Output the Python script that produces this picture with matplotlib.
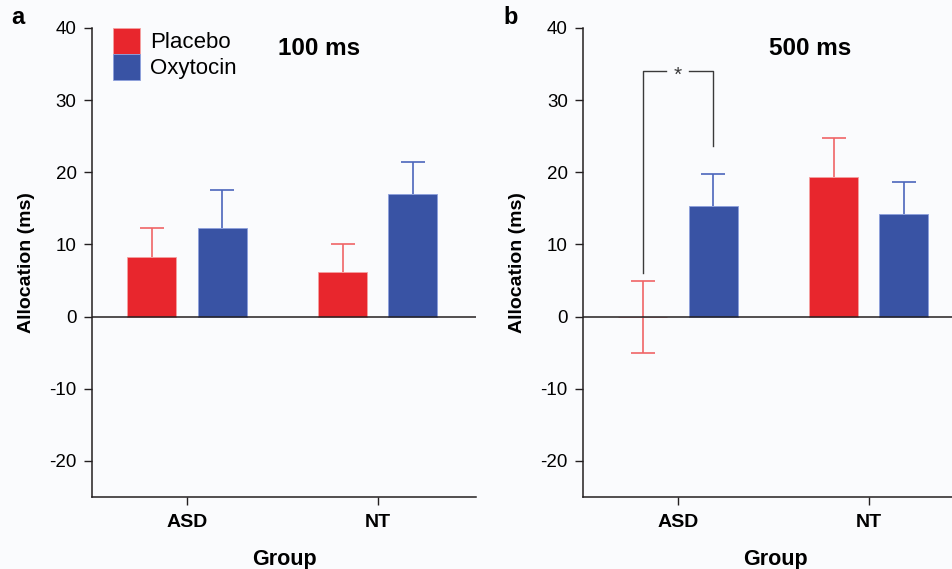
import matplotlib.pyplot as plt
from matplotlib.patches import Patch

plt.rcParams['font.family'] = ['Liberation Sans', 'DejaVu Sans']
plt.rcParams['axes.unicode_minus'] = False

# Data
groups = ['ASD', 'NT']
conditions = ['Placebo', 'Oxytocin']
placebo_100 = [8.3, 6.2]
placebo_100_err = [4.0, 3.8]
oxytocin_100 = [12.3, 17.0]
oxytocin_100_err = [5.2, 4.4]
placebo_500 = [0.0, 19.3]
placebo_500_err = [5.0, 5.4]
oxytocin_500 = [15.4, 14.2]
oxytocin_500_err = [4.4, 4.4]
titles = ['100 ms', '500 ms']
panel_tags = ['a', 'b']

red, blue = '#e8262d', '#3953a4'
red_err, blue_err = '#f06466', '#4b66bb'
ink = '#231f20'
bg = '#fafbfd'

fig = plt.figure(figsize=(9.52, 5.69), dpi=100, facecolor=bg)
ax_a = fig.add_axes([0.0966, 0.1265, 0.4034, 0.8243])
ax_b = fig.add_axes([0.6124, 0.1265, 0.4034, 0.8243])

w, off = 0.257, 0.184
cap = 0.063
xs = [0, 1]

# error bar drawn as a stem with a cap on top (and below when asked)
def err_bar(ax, x, val, err, col, both):
    lo = val - err if both else val
    ax.vlines(x, lo, val + err, color=col, lw=1.2, zorder=1)
    ax.hlines(val + err, x - cap, x + cap, color=col, lw=1.2, zorder=1)
    if both:
        ax.hlines(val - err, x - cap, x + cap, color=col, lw=1.2, zorder=1)

def draw_panel(ax, pla, pla_err, oxy, oxy_err, title, both_sides):
    ax.set_facecolor(bg)
    xp = [x - off for x in xs]
    xo = [x + off for x in xs]
    ax.bar(xp, pla, w, color=red, edgecolor='#f4a0a0', linewidth=0.6, zorder=2)
    ax.bar(xo, oxy, w, color=blue, edgecolor='#8da0dc', linewidth=0.6, zorder=2)
    for i in range(len(xs)):
        err_bar(ax, xp[i], pla[i], pla_err[i], red_err, both_sides[i])
        err_bar(ax, xo[i], oxy[i], oxy_err[i], blue_err, False)
    ax.axhline(0, color=ink, lw=1.1, zorder=3)
    ax.set_xlim(-0.498, 1.515)
    ax.set_ylim(-25, 40)
    ax.set_yticks([-20, -10, 0, 10, 20, 30, 40])
    ax.set_xticks(xs)
    ax.set_xticklabels(groups, fontweight='bold', fontsize=14)
    ax.tick_params(axis='y', labelsize=13.5, length=6, width=1, color=ink, pad=5)
    ax.tick_params(axis='x', length=5.5, width=1, color=ink, pad=7)
    for s in ['top', 'right']:
        ax.spines[s].set_visible(False)
    for s in ['left', 'bottom']:
        ax.spines[s].set_color(ink)
        ax.spines[s].set_linewidth(1.1)
    ax.set_xlabel('Group', fontweight='bold', fontsize=15.5, labelpad=13)
    ax.set_ylabel('Allocation (ms)', fontweight='bold', fontsize=14, labelpad=10)
    ax.text(0.69, 37.2, title, fontweight='bold', fontsize=17.5, ha='center', va='center')

draw_panel(ax_a, placebo_100, placebo_100_err, oxytocin_100, oxytocin_100_err,
           titles[0], [False, False])
draw_panel(ax_b, placebo_500, placebo_500_err, oxytocin_500, oxytocin_500_err,
           titles[1], [True, False])

fig.text(11 / 952, 1 - 18 / 569, panel_tags[0], fontweight='bold', fontsize=17, va='center')
fig.text(503 / 952, 1 - 18 / 569, panel_tags[1], fontweight='bold', fontsize=17, va='center')

# significance bracket on panel b
bx0, bx1, by = -off, off, 34
ax_b.plot([bx0, bx0, -0.063], [6.1, by, by], color='#3a3a3a', lw=1)
ax_b.plot([0.058, bx1, bx1], [by, by, 23.6], color='#3a3a3a', lw=1)
ax_b.text(0, by - 0.5, '*', ha='center', va='center', fontsize=15, color='#3a3a3a')

handles = [Patch(facecolor=red, edgecolor='#f4a0a0', lw=0.6),
           Patch(facecolor=blue, edgecolor='#8da0dc', lw=0.6)]
ax_a.legend(handles, conditions, loc='upper left', bbox_to_anchor=(113 / 952, 1 - 28 / 569),
            bbox_transform=fig.transFigure, frameon=False, fontsize=16,
            handlelength=1.22, handleheight=1.42, labelspacing=0, borderpad=0,
            handletextpad=0.45, borderaxespad=0)

fig.savefig('out.png', dpi=100, facecolor=bg)
